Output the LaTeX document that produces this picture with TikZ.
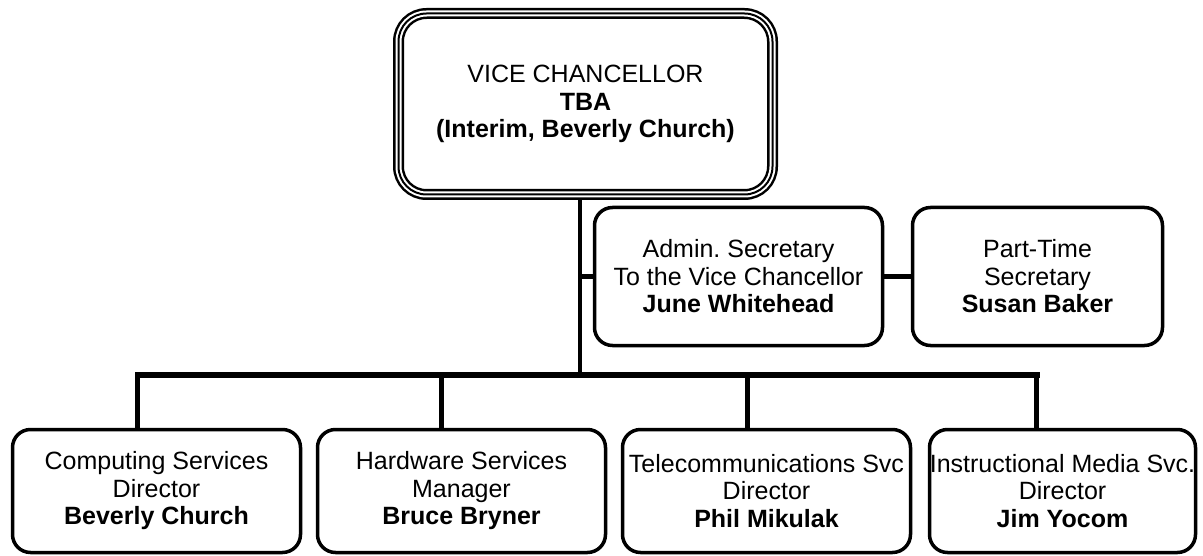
\documentclass[tikz,border=0pt]{standalone}
\usepackage{fontspec}
\setmainfont{Liberation Sans}
\begin{document}
\begin{tikzpicture}[x=1pt,y={(0pt,-1pt)},
  every node/.style={font=\fontsize{25}{27.5}\selectfont, align=center, inner sep=0pt},
  orgbox/.style={draw=black, line width=3.5pt, rounded corners=18pt, fill=white},
  headbox/.style={draw=black, line width=11pt, rounded corners=28pt, fill=white,
    postaction={draw=white, line width=6pt, rounded corners=28pt},
    postaction={draw=black, line width=2pt, rounded corners=28pt}},
  link/.style={draw=black, line width=4.5pt},
  bus/.style={draw=black, line width=6pt, line cap=rect}]
  \fill[white] (0,0) rectangle (1203,556);
  \useasboundingbox (0,0) rectangle (1203,556);

  % head of the unit
  \node[headbox, minimum width=374pt, minimum height=181pt] (head) at (585.5,104)
    {VICE CHANCELLOR\\ \textbf{TBA}\\ \textbf{(Interim, Beverly Church)}};

  % staff attached to the vice chancellor
  \node[orgbox, minimum width=288pt, minimum height=138pt] (sec) at (738.5,276.5)
    {Admin.\ Secretary\\ To the Vice Chancellor\\ \textbf{June Whitehead}};
  \node[orgbox, minimum width=250pt, minimum height=138pt] (pts) at (1037.5,276.5)
    {Part-Time\\ Secretary\\ \textbf{Susan Baker}};

  % reporting units
  \node[orgbox, minimum width=288pt, minimum height=123pt] (cs) at (156.5,491)
    {Computing Services\\ Director\\ \textbf{Beverly Church}};
  \node[orgbox, minimum width=288pt, minimum height=123pt] (hw) at (461.5,491)
    {Hardware Services\\ Manager\\ \textbf{Bruce Bryner}};
  \node[orgbox, minimum width=288pt, minimum height=123pt] (tc) at (766.5,491)
    {Telecommunications Svc\\ Director\\ \textbf{Phil Mikulak}};
  \node[orgbox, minimum width=266pt, minimum height=123pt] (im) at (1062.5,491)
    {Instructional Media Svc.\\ Director\\ \textbf{Jim Yocom}};

  % drop points on the horizontal bus
  \coordinate (hub) at (580,374.5);
  \coordinate (d1) at (137.5,374.5);
  \coordinate (d2) at (441.5,374.5);
  \coordinate (d3) at (747.5,374.5);
  \coordinate (d4) at (1036.5,374.5);

  % connectors
  \draw[link] (head.south -| hub) -- (hub);
  \draw[link] (sec.west) -- (sec.west -| hub);
  \draw[link] (sec.east) -- (pts.west);
  \draw[link] (d1) -- (d1 |- cs.north);
  \draw[link] (d2) -- (d2 |- hw.north);
  \draw[link] (d3) -- (d3 |- tc.north);
  \draw[link] (d4) -- (d4 |- im.north);
  \draw[bus] (d1) -- (d4);
\end{tikzpicture}
\end{document}
